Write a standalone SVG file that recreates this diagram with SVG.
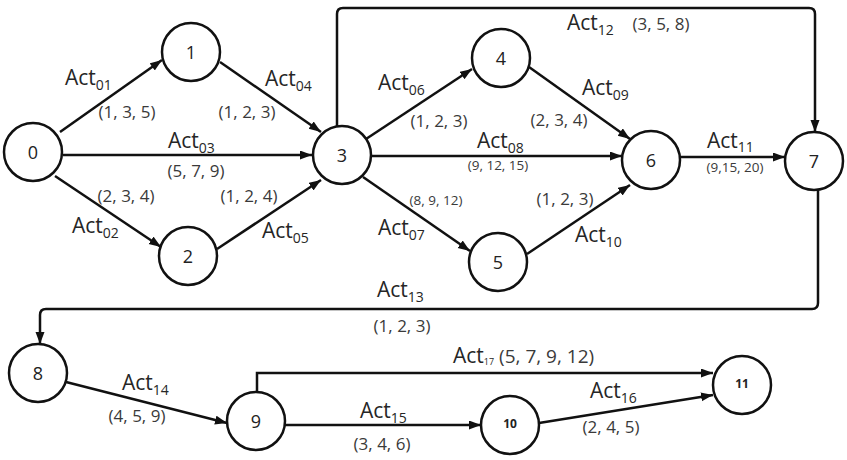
<svg xmlns="http://www.w3.org/2000/svg" width="847" height="460" viewBox="0 0 847 460">
<defs>
<marker id="ah" markerUnits="userSpaceOnUse" markerWidth="12" markerHeight="10" refX="12" refY="4.5" orient="auto">
<path d="M0,0 L12,4.5 L0,9 z" fill="#111"/>
</marker>
<style>
.node circle{fill:#fff;stroke:#111;stroke-width:2.5}
.node text{font-family:"Open Sans","Liberation Sans",sans-serif;font-size:18px;fill:#222;text-anchor:middle;dominant-baseline:central}
.node text.sm{font-size:12px;font-weight:bold}
.edge{fill:none;stroke:#111;stroke-width:2.5;marker-end:url(#ah)}
.act{font-family:"Open Sans","Liberation Sans",sans-serif;font-size:21px;fill:#262626}
.sub{font-size:14px}
.tup{font-family:"Open Sans","Liberation Sans",sans-serif;font-size:17px;fill:#3a3a3a;text-anchor:middle}
.tsm{font-size:13.5px}
</style>
</defs>
<rect width="847" height="460" fill="#fff"/>
<g id="connectors">
<path class="edge" d="M60,132 L162,60"/>
<path class="edge" d="M220,62 L321,132"/>
<path class="edge" d="M63,155 L312,155"/>
<path class="edge" d="M55,176 L161,247"/>
<path class="edge" d="M217,249 L321,180"/>
<path class="edge" d="M366,139 L472,69"/>
<path class="edge" d="M371,156 L622,156"/>
<path class="edge" d="M363,177 L470,251"/>
<path class="edge" d="M529,67 L630,139"/>
<path class="edge" d="M527,254 L630,185"/>
<path class="edge" d="M680,157 L785,157"/>
<path class="edge" d="M337,127 V14 Q337,8 343,8 H809 Q815,8 815,14 V132"/>
<path class="edge" d="M818,189 V303 Q818,309 812,309 H46 Q40,309 40,315 V344"/>
<path class="edge" d="M66,382 L227,423"/>
<path class="edge" d="M257,392 V373 H713"/>
<path class="edge" d="M285,425 H481"/>
<path class="edge" d="M539,423 L713,395"/>
</g>
<g id="n0" class="node"><circle cx="33" cy="152" r="29"/><text x="33" y="152">0</text></g>
<g id="n1" class="node"><circle cx="191" cy="52" r="29"/><text x="191" y="52">1</text></g>
<g id="n2" class="node"><circle cx="188" cy="256" r="29"/><text x="188" y="256">2</text></g>
<g id="n3" class="node"><circle cx="342" cy="155" r="29"/><text x="342" y="155">3</text></g>
<g id="n4" class="node"><circle cx="501" cy="58" r="29"/><text x="501" y="58">4</text></g>
<g id="n5" class="node"><circle cx="498" cy="262" r="29"/><text x="498" y="262">5</text></g>
<g id="n6" class="node"><circle cx="651" cy="160" r="29"/><text x="651" y="160">6</text></g>
<g id="n7" class="node"><circle cx="814" cy="161" r="29"/><text x="814" y="161">7</text></g>
<g id="n8" class="node"><circle cx="38" cy="373" r="29"/><text x="38" y="373">8</text></g>
<g id="n9" class="node"><circle cx="256" cy="421" r="29"/><text x="256" y="421">9</text></g>
<g id="n10" class="node"><circle cx="510" cy="425" r="29"/><text class="sm" x="510" y="423">10</text></g>
<g id="n11" class="node"><circle cx="742" cy="385" r="29"/><text class="sm" x="742" y="383">11</text></g>
<g id="labels">
<text class="act" x="65" y="85">Act<tspan class="sub" dy="5">01</tspan></text>
<text class="tup" x="127" y="118">(1, 3, 5)</text>
<text class="act" x="265" y="86">Act<tspan class="sub" dy="5">04</tspan></text>
<text class="tup" x="247" y="118">(1, 2, 3)</text>
<text class="act" x="168" y="148">Act<tspan class="sub" dy="5">03</tspan></text>
<text class="tup" x="196" y="177">(5, 7, 9)</text>
<text class="tup" x="126" y="202">(2, 3, 4)</text>
<text class="act" x="72" y="233">Act<tspan class="sub" dy="5">02</tspan></text>
<text class="tup" x="249" y="202">(1, 2, 4)</text>
<text class="act" x="262" y="238">Act<tspan class="sub" dy="5">05</tspan></text>
<text class="act" x="567" y="30">Act<tspan class="sub" dy="5">12</tspan></text>
<text class="tup" x="661" y="30">(3, 5, 8)</text>
<text class="act" x="378" y="90">Act<tspan class="sub" dy="5">06</tspan></text>
<text class="tup" x="439" y="127">(1, 2, 3)</text>
<text class="act" x="582" y="95">Act<tspan class="sub" dy="5">09</tspan></text>
<text class="tup" x="559" y="126">(2, 3, 4)</text>
<text class="act" x="477" y="148">Act<tspan class="sub" dy="5">08</tspan></text>
<text class="tup tsm" x="498" y="170">(9, 12, 15)</text>
<text class="tup tsm" x="436" y="205">(8, 9, 12)</text>
<text class="act" x="378" y="235">Act<tspan class="sub" dy="5">07</tspan></text>
<text class="tup" x="565" y="205">(1, 2, 3)</text>
<text class="act" x="575" y="242">Act<tspan class="sub" dy="5">10</tspan></text>
<text class="act" x="707" y="148">Act<tspan class="sub" dy="4">11</tspan></text>
<text class="tup tsm" x="735" y="172">(9,15, 20)</text>
<text class="act" x="377" y="297">Act<tspan class="sub" dy="5">13</tspan></text>
<text class="tup" x="402" y="332">(1, 2, 3)</text>
<text class="act" x="122" y="390">Act<tspan class="sub" dy="5">14</tspan></text>
<text class="tup" x="137" y="422">(4, 5, 9)</text>
<text class="act" x="360" y="418">Act<tspan class="sub" dy="5">15</tspan></text>
<text class="tup" x="382" y="450">(3, 4, 6)</text>
<text class="act" x="453" y="363">Act<tspan style="font-size:9px" dy="2">17</tspan><tspan class="tup" style="font-size:19px;text-anchor:start" dy="-2"> (5, 7, 9, 12)</tspan></text>
<text class="act" x="590" y="398">Act<tspan class="sub" dy="5">16</tspan></text>
<text class="tup" x="611" y="433">(2, 4, 5)</text>
</g>
</svg>
